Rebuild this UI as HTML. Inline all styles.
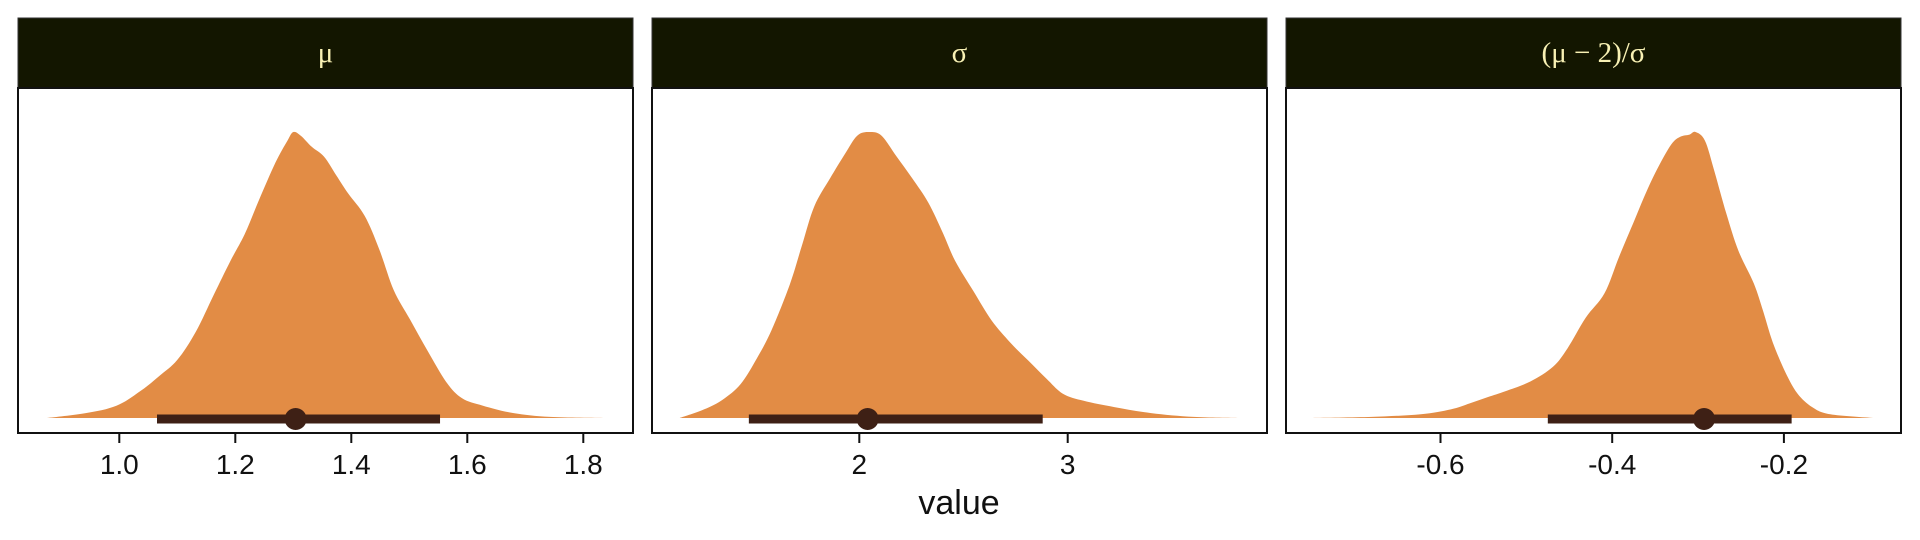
<!DOCTYPE html>
<html><head><meta charset="utf-8"><style>
html,body{margin:0;padding:0;background:#fff;}
svg{display:block;font-family:"Liberation Sans",sans-serif;}
</style></head><body>
<svg id="chart" width="1920" height="540" viewBox="0 0 1920 540" xmlns="http://www.w3.org/2000/svg"></svg>
<script>
// Panel data
const panelTitles = ["μ", "σ", "(μ − 2)/σ"];
const muVals = [0.875,0.942,0.995,1.037,1.069,1.100,1.132,1.163,1.191,1.216,1.241,1.269,1.290,1.300,1.313,1.332,1.353,1.374,1.395,1.423,1.448,1.473,1.501,1.532,1.564,1.591,1.627,1.680,1.743,1.838];
const muDens = [0,0.017,0.043,0.095,0.147,0.203,0.302,0.431,0.547,0.642,0.763,0.892,0.970,1.0,0.987,0.948,0.914,0.849,0.784,0.707,0.591,0.448,0.345,0.233,0.125,0.069,0.043,0.017,0.004,0];
const sigVals = [1.138,1.255,1.344,1.431,1.508,1.578,1.667,1.725,1.784,1.860,1.931,1.990,2.048,2.107,2.178,2.254,2.331,2.401,2.460,2.548,2.636,2.724,2.812,2.900,2.977,3.077,3.224,3.400,3.605,3.823];
const sigDens = [0,0.030,0.064,0.119,0.208,0.306,0.468,0.604,0.740,0.838,0.923,0.987,1.0,0.987,0.915,0.838,0.753,0.647,0.549,0.443,0.340,0.264,0.200,0.136,0.085,0.060,0.038,0.017,0.004,0];
const effVals = [-0.749,-0.680,-0.623,-0.588,-0.566,-0.545,-0.524,-0.495,-0.469,-0.452,-0.431,-0.409,-0.392,-0.374,-0.359,-0.345,-0.331,-0.321,-0.310,-0.303,-0.292,-0.281,-0.267,-0.253,-0.235,-0.224,-0.213,-0.198,-0.184,-0.167,-0.146,-0.096];
const effDens = [0,0.004,0.013,0.030,0.051,0.073,0.094,0.128,0.179,0.244,0.350,0.436,0.564,0.692,0.799,0.885,0.957,0.983,0.991,1.0,0.970,0.863,0.714,0.585,0.470,0.372,0.265,0.158,0.085,0.038,0.013,0];
const pointEst = [1.304, 2.04, -0.293];
const intLow = [1.065, 1.47, -0.475];
const intHigh = [1.553, 2.88, -0.191];
const tickVals1 = [1.0,1.2,1.4,1.6,1.8];
const tickLabels1 = ["1.0","1.2","1.4","1.6","1.8"];
const tickVals2 = [2,3];
const tickLabels2 = ["2","3"];
const tickVals3 = [-0.6,-0.4,-0.2];
const tickLabels3 = ["-0.6","-0.4","-0.2"];

const NS = "http://www.w3.org/2000/svg";
const svg = document.getElementById("chart");
function mk(tag, attrs, parent){
  const e = document.createElementNS(NS, tag);
  for (const k in attrs) e.setAttribute(k, attrs[k]);
  (parent||svg).appendChild(e);
  return e;
}
const panels = [
  {left:18, right:633, domA:1.0, pxA:119.3, domB:1.2, pxB:235.3, vals:muVals, dens:muDens, ticks:tickVals1, labels:tickLabels1, name:"mu"},
  {left:652, right:1267, domA:2, pxA:859.3, domB:3, pxB:1067.7, vals:sigVals, dens:sigDens, ticks:tickVals2, labels:tickLabels2, name:"sigma"},
  {left:1286, right:1901, domA:-0.6, pxA:1440.5, domB:-0.4, pxB:1612.2, vals:effVals, dens:effDens, ticks:tickVals3, labels:tickLabels3, name:"effect-size"}
];
const headTop = 18, headBot = 88, plotBot = 433, baseY = 418, maxH = 286;

function smoothPath(pts){
  let d = "";
  for (let k = 0; k < pts.length - 1; k++){
    const p0 = pts[Math.max(0,k-1)], p1 = pts[k], p2 = pts[k+1], p3 = pts[Math.min(pts.length-1,k+2)];
    const c1x = p1[0] + (p2[0]-p0[0])/6, c1y = p1[1] + (p2[1]-p0[1])/6;
    const c2x = p2[0] - (p3[0]-p1[0])/6, c2y = p2[1] - (p3[1]-p1[1])/6;
    d += " C" + c1x.toFixed(1)+","+Math.min(baseY,c1y).toFixed(1)+" "+c2x.toFixed(1)+","+Math.min(baseY,c2y).toFixed(1)+" "+p2[0].toFixed(1)+","+p2[1].toFixed(1);
  }
  return d;
}

panels.forEach((p, i) => {
  const xs = v => p.pxA + (v - p.domA) * (p.pxB - p.pxA) / (p.domB - p.domA);
  const ys = d => baseY - d * maxH;
  const g = mk("g", {});
  
  

  const hd = mk("rect", {x:p.left, y:headTop, width:p.right-p.left, height:headBot-headTop, fill:"#131600", stroke:"#333", "stroke-width":1}, g);
  
  
  const ht = mk("text", {x:(p.left+p.right)/2, y:62, "text-anchor":"middle", fill:"#f8f1b4", "font-size":29, "font-family":"'Liberation Serif', serif"}, g);
  ht.textContent = panelTitles[i];
  
  

  const pb = mk("rect", {x:p.left, y:headBot, width:p.right-p.left, height:plotBot-headBot, fill:"#fff", stroke:"#111", "stroke-width":2}, g);
  
  

  const pts = p.vals.map((v,k) => [xs(v), ys(p.dens[k])]);
  let d = "M" + pts[0][0].toFixed(1) + "," + baseY + smoothPath(pts) + " Z";
  const sl = mk("path", {d:d, fill:"#e28c45"}, g);
  
  

  const iv = mk("line", {x1:xs(intLow[i]), x2:xs(intHigh[i]), y1:baseY+1, y2:baseY+1, stroke:"#3e2015", "stroke-width":9}, g);
  
  
  const pt = mk("circle", {cx:xs(pointEst[i]), cy:baseY+1, r:11, fill:"#3e2015"}, g);
  
  

  p.ticks.forEach((t, j) => {
    const tl = mk("line", {x1:xs(t), x2:xs(t), y1:plotBot, y2:plotBot+10, stroke:"#111", "stroke-width":2}, g);
    
    
    const tx = mk("text", {x:xs(t), y:474, "text-anchor":"middle", fill:"#111", "font-size":28}, g);
    tx.textContent = p.labels[j];
    
    
  });
});
const xt = mk("text", {x:959, y:514, "text-anchor":"middle", fill:"#111", "font-size":34});
xt.textContent = "value";


</script>
</body></html>
